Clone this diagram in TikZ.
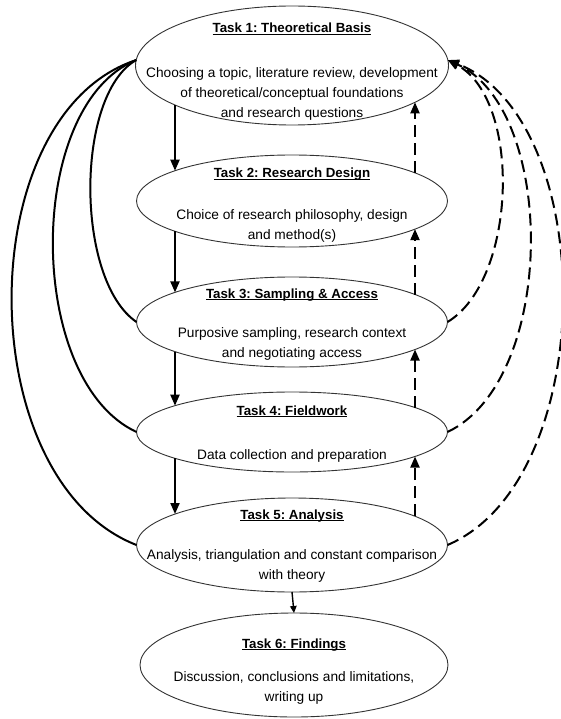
\documentclass[tikz,border=0pt]{standalone}
\usepackage{fontspec}
\setmainfont{Liberation Sans}
\usetikzlibrary{arrows.meta,shapes.geometric,calc}
\frenchspacing

% underlined heading with a fixed rule position
\newcommand\headul[1]{\setbox0\hbox{#1}\rlap{\rule[-2.2pt]{\wd0}{0.9pt}}\box0}

\begin{document}
\begin{tikzpicture}[x=1pt,y=-1pt,
  task/.style={ellipse, draw=black!80, line width=0.9pt, fill=white,
               inner sep=0pt, outer sep=0pt},
  heading/.style={font=\fontsize{13.3}{16}\selectfont\bfseries,
                  inner sep=0pt, anchor=base},
  body/.style={font=\fontsize{13.7}{20}\selectfont, align=center, inner sep=0pt},
  tip/.style={-{Triangle[length=11pt,width=9pt]}},
  fwd/.style={line width=2pt, tip},
  back/.style={line width=2pt, dash pattern=on 12pt off 6pt, tip},
  loopline/.style={line width=2pt},
]
\useasboundingbox[fill=white] (0,0) rectangle (560,719);

% task ellipses
\node[task, minimum width=313pt, minimum height=119pt] (T1) at (292,65.5) {};
\node[task, minimum width=311pt, minimum height=92pt]  (T2) at (292,201) {};
\node[task, minimum width=311pt, minimum height=90pt]  (T3) at (292,322) {};
\node[task, minimum width=311pt, minimum height=80pt]  (T4) at (292,432) {};
\node[task, minimum width=311pt, minimum height=94pt]  (T5) at (292,545) {};
\node[task, minimum width=308pt, minimum height=104pt] (T6) at (294,665) {};

% headings
\node[heading] (T1h) at (292,33)  {\headul{Task 1: Theoretical Basis}};
\node[heading] (T2h) at (292,178) {\headul{Task 2: Research Design}};
\node[heading] (T3h) at (292,298) {\headul{Task 3: Sampling \& Access}};
\node[heading] (T4h) at (292,415) {\headul{Task 4: Fieldwork}};
\node[heading] (T5h) at (292,519) {\headul{Task 5: Analysis}};
\node[heading] (T6h) at (294,648) {\headul{Task 6: Findings}};

% descriptions
\node[body] (T1b) at (292,93.5) {Choosing a topic, literature review, development\\
  of theoretical/conceptual foundations\\ and research questions};
\node[body] (T2b) at (292,225.5) {Choice of research philosophy, design\\ and method(s)};
\node[body] (T3b) at (292,344) {Purposive sampling, research context\\ and negotiating access};
\node[body] (T4b) at (292,456) {Data collection and preparation};
\node[body] (T5b) at (292,566) {Analysis, triangulation and constant comparison\\ with theory};
\node[body] (T6b) at (294,688) {Discussion, conclusions and limitations,\\ writing up};

% forward steps (left), vertical between the ellipse borders
\draw[fwd] ($(T1.center)+(-117,39.5)$) -- ($(T2.center)+(-117,-30.3)$);
\draw[fwd] ($(T2.center)+(-117,30.3)$) -- ($(T3.center)+(-117,-29.6)$);
\draw[fwd] ($(T3.center)+(-117,29.6)$) -- ($(T4.center)+(-117,-26.3)$);
\draw[fwd] ($(T4.center)+(-117,26.3)$) -- ($(T5.center)+(-117,-31.0)$);
\draw[line width=1.4pt, -{Triangle[length=7pt,width=6.5pt]}] (T5.south) -- (T6.north);

% feedback steps (right)
\draw[back] ($(T2.center)+(123,-28.1)$) -- ($(T1.center)+(123,36.8)$);
\draw[back] ($(T3.center)+(123,-27.5)$) -- ($(T2.center)+(123,28.1)$);
\draw[back] ($(T4.center)+(123,-24.5)$) -- ($(T3.center)+(123,27.5)$);
\draw[back] ($(T5.center)+(123,-28.8)$) -- ($(T4.center)+(123,24.5)$);

% links from the theoretical basis (left)
\draw[loopline] (T1.178) .. controls (75,95) and (75,280) .. (T3.west);
\draw[loopline] (T1.178) .. controls (25,105) and (25,380) .. (T4.west);
\draw[loopline] (T1.178) .. controls (-30,115) and (-30,480) .. (T5.west);

% links back to the theoretical basis (right)
\draw[back] (T3.east) .. controls (517,280) and (522,100) .. (T1.2);
\draw[back] (T4.east) .. controls (557,380) and (557,110) .. (T1.2);
\draw[back] (T5.east) .. controls (600,480) and (600,120) .. (T1.2);
\end{tikzpicture}
\end{document}
